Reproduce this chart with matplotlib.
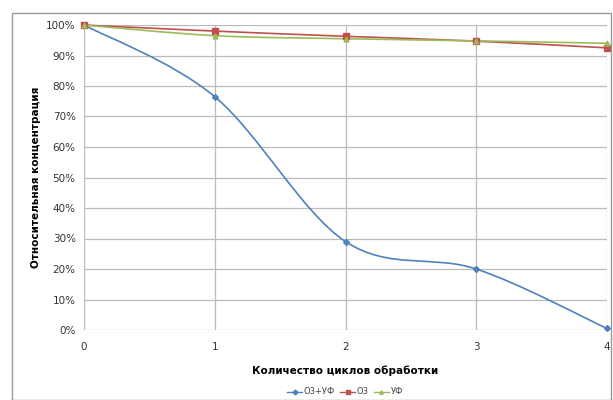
import matplotlib
matplotlib.use('Agg')
import matplotlib.pyplot as plt
from matplotlib.path import Path
from matplotlib.patches import PathPatch, Rectangle
from matplotlib.lines import Line2D
from matplotlib.ticker import PercentFormatter

cycles = [0, 1, 2, 3, 4]
o3_uv = [100, 76.5, 29, 20, 0.5]
o3 = [100, 98, 96.3, 94.7, 92.5]
uv = [100, 96.5, 95.5, 94.8, 94]
labels = ['О3+УФ', 'О3', 'УФ']
colors = ['#4F81BD', '#C0504D', '#9BBB59']
markers = ['D', 's', '^']
msizes = [3, 4, 3.5]


def smooth_path(x, y):
    # Excel-like smoothed line: cubic Bezier segments through the points
    verts = [(x[0], y[0])]
    codes = [Path.MOVETO]
    n = len(x)
    for i in range(n - 1):
        x0, y0 = (x[i - 1], y[i - 1]) if i > 0 else (x[i], y[i])
        x3, y3 = (x[i + 2], y[i + 2]) if i + 2 < n else (x[i + 1], y[i + 1])
        c1 = (x[i] + (x[i + 1] - x0) / 6, y[i] + (y[i + 1] - y0) / 6)
        c2 = (x[i + 1] - (x3 - x[i]) / 6, y[i + 1] - (y3 - y[i]) / 6)
        verts += [c1, c2, (x[i + 1], y[i + 1])]
        codes += [Path.CURVE4] * 3
    return Path(verts, codes)


fig = plt.figure(figsize=(6.13, 4.0), dpi=100)
fig.patches.append(Rectangle((12 / 613, 0), 599 / 613, 387 / 400, transform=fig.transFigure,
                             fill=False, edgecolor='#999999', linewidth=1.0))
ax = fig.add_axes([84 / 613, 1 - 330 / 400, 523 / 613, 305 / 400])

handles = []
for ys, c, m, ms, lab in zip([o3_uv, o3, uv], colors, markers, msizes, labels):
    ax.add_patch(PathPatch(smooth_path(cycles, ys), facecolor='none', edgecolor=c,
                           linewidth=1.2, zorder=3, clip_on=False))
    ax.plot(cycles, ys, linestyle='none', marker=m, color=c, markersize=ms, zorder=4, clip_on=False)
    handles.append(Line2D([], [], color=c, marker=m, markersize=2.5, linewidth=1.0, label=lab))

ax.set_xlim(0, 4)
ax.set_ylim(0, 100)
ax.set_xticks(cycles)
ax.set_yticks(range(0, 101, 10))
ax.yaxis.set_major_formatter(PercentFormatter(decimals=0))
ax.grid(True, color='#BBBBBB', linewidth=0.9)
ax.set_axisbelow(True)
for s in ax.spines.values():
    s.set_visible(False)
ax.tick_params(length=0, labelsize=7.5, colors='#333333', pad=6)
ax.tick_params(axis='x', pad=9)
ax.set_xlabel('Количество циклов обработки', fontsize=7.5, fontweight='bold', labelpad=9)
ax.set_ylabel('Относительная концентрация', fontsize=7.5, fontweight='bold', labelpad=4)

fig.legend(handles=handles, loc='center', bbox_to_anchor=(345 / 613, 1 - 392 / 400), ncol=3,
           frameon=False, fontsize=6, handlelength=1.8, columnspacing=0.6, handletextpad=0.2,
           labelcolor='#444444')

fig.savefig('out.png', dpi=100)
